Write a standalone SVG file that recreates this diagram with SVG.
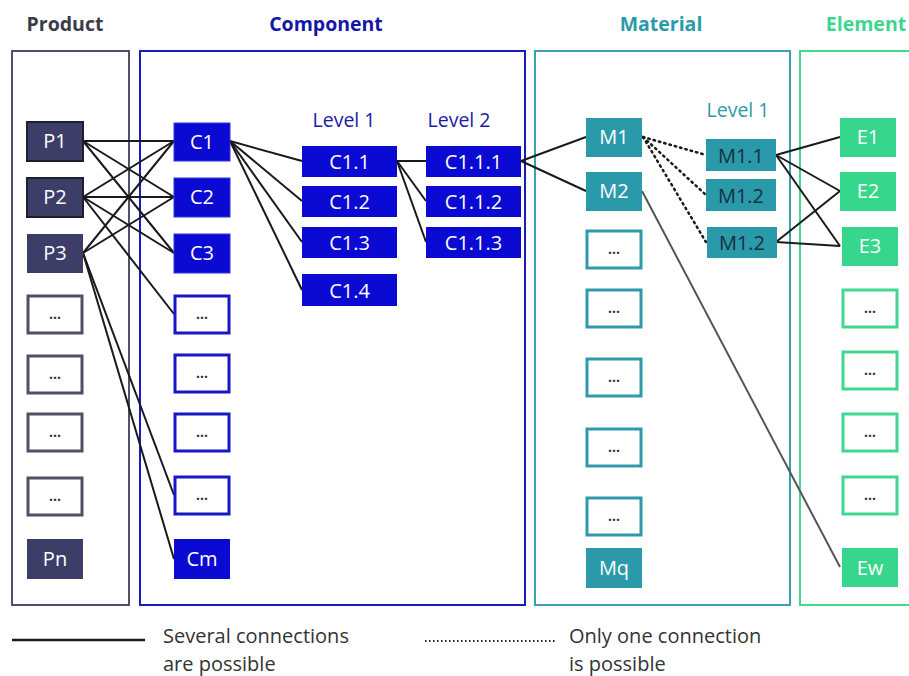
<svg xmlns="http://www.w3.org/2000/svg" width="909" height="676" viewBox="0 0 909 676">
<style>
text{font-family:"Open Sans","Noto Sans","Liberation Sans",sans-serif}
.hd{font-size:19.5px;font-weight:bold;text-anchor:middle}
.lv{font-size:19.5px;text-anchor:middle}
.nt{font-size:20px;fill:#fff;text-anchor:middle}
.dk{fill:#17303a}
.dt{font-size:14px;fill:#333;text-anchor:middle;font-weight:bold}
.lg{font-size:20px;fill:#333}
.fr{fill:none;stroke-width:2}
.p{fill:#3c3e68}
.c{fill:#0a0ad2;stroke:#2b3ad6;stroke-width:1}
.cp{fill:#0a0ad2}
.m{fill:#2a9aab}
.e{fill:#36d68c}
.dp{fill:#fff;stroke:#4f5068;stroke-width:3}
.dc{fill:#fff;stroke:#1717c8;stroke-width:3}
.dm{fill:#fff;stroke:#2e9aaa;stroke-width:3}
.de{fill:#fff;stroke:#40d890;stroke-width:3}
.ln{stroke:#1a1a1a;stroke-width:2;fill:none}
.dl{stroke:#1a1a1a;stroke-width:2.5;stroke-dasharray:1.5 4;stroke-linecap:round;fill:none}
</style>

<g id="frames">
<rect class="fr" x="12" y="51" width="117" height="554" stroke="#50506a"/>
<rect class="fr" x="140" y="51" width="385" height="554" stroke="#1b1bbb"/>
<rect class="fr" x="535" y="51" width="255" height="554" stroke="#3a9fb5"/>
<rect class="fr" x="800" y="51" width="120" height="554" stroke="#46d98e"/>
</g>

<g id="headers">
<text class="hd" x="65" y="31" fill="#3a3a48">Product</text>
<text class="hd" x="326" y="31" fill="#1515a8">Component</text>
<text class="hd" x="661" y="31" fill="#2a9aa8">Material</text>
<text class="hd" x="866" y="31" fill="#3dd68f">Element</text>
<text class="lv" x="344" y="127" fill="#1a1aa6">Level 1</text>
<text class="lv" x="459" y="127" fill="#1a1aa6">Level 2</text>
<text class="lv" x="738" y="117" fill="#2e9aa6">Level 1</text>
</g>

<g id="connectors">
<line class="ln" x1="83" y1="141" x2="174" y2="141"/>
<line class="ln" x1="83" y1="141" x2="174" y2="197"/>
<line class="ln" x1="83" y1="141" x2="174" y2="253"/>
<line class="ln" x1="83" y1="197" x2="174" y2="141"/>
<line class="ln" x1="83" y1="197" x2="174" y2="197"/>
<line class="ln" x1="83" y1="197" x2="174" y2="253"/>
<line class="ln" x1="83" y1="197" x2="174" y2="314"/>
<line class="ln" x1="83" y1="253" x2="174" y2="141"/>
<line class="ln" x1="83" y1="253" x2="174" y2="197"/>
<line class="ln" x1="83" y1="253" x2="174" y2="495"/>
<line class="ln" x1="83" y1="253" x2="174" y2="559"/>
<line class="ln" x1="230" y1="141" x2="302" y2="161"/>
<line class="ln" x1="230" y1="141" x2="302" y2="201"/>
<line class="ln" x1="230" y1="141" x2="302" y2="242"/>
<line class="ln" x1="230" y1="141" x2="302" y2="290"/>
<line class="ln" x1="397" y1="161" x2="426" y2="161"/>
<line class="ln" x1="397" y1="161" x2="426" y2="201"/>
<line class="ln" x1="397" y1="161" x2="426" y2="242"/>
<line class="ln" x1="521" y1="161" x2="586" y2="137"/>
<line class="ln" x1="521" y1="161" x2="586" y2="191"/>
<line class="dl" x1="643" y1="137" x2="706" y2="155"/>
<line class="dl" x1="643" y1="137" x2="706" y2="195"/>
<line class="dl" x1="643" y1="137" x2="706" y2="242"/>
<line x1="642" y1="191" x2="840" y2="567" stroke="#555" stroke-width="2"/>
<line class="ln" x1="776" y1="155" x2="840" y2="137"/>
<line class="ln" x1="776" y1="155" x2="840" y2="191"/>
<line class="ln" x1="776" y1="155" x2="840" y2="246"/>
<line class="ln" x1="776" y1="242" x2="840" y2="191"/>
<line class="ln" x1="776" y1="242" x2="840" y2="246"/>
</g>

<g id="P1"><rect class="p" x="27" y="122" width="56" height="39" stroke="#1e1f2e" stroke-width="2"/><text class="nt" x="55" y="148">P1</text></g>
<g id="P2"><rect class="p" x="27" y="178" width="56" height="39" stroke="#1e1f2e" stroke-width="2"/><text class="nt" x="55" y="204">P2</text></g>
<g id="P3"><rect class="p" x="27" y="234" width="56" height="39"/><text class="nt" x="55" y="260">P3</text></g>
<g id="P4"><rect class="dp" x="28" y="296" width="54" height="37"/><text class="dt" x="55" y="319">...</text></g>
<g id="P5"><rect class="dp" x="28" y="356" width="54" height="37"/><text class="dt" x="55" y="379">...</text></g>
<g id="P6"><rect class="dp" x="28" y="414" width="54" height="37"/><text class="dt" x="55" y="437">...</text></g>
<g id="P7"><rect class="dp" x="28" y="478" width="54" height="37"/><text class="dt" x="55" y="501">...</text></g>
<g id="Pn"><rect class="p" x="27" y="539" width="56" height="40"/><text class="nt" x="55" y="566">Pn</text></g>

<g id="C1"><rect class="c" x="174" y="123" width="56" height="38"/><text class="nt" x="202" y="149">C1</text></g>
<g id="C2"><rect class="c" x="174" y="178" width="56" height="39"/><text class="nt" x="202" y="204">C2</text></g>
<g id="C3"><rect class="c" x="174" y="234" width="56" height="39"/><text class="nt" x="202" y="260">C3</text></g>
<g id="C4"><rect class="dc" x="175" y="296" width="54" height="37"/><text class="dt" x="202" y="319">...</text></g>
<g id="C5"><rect class="dc" x="175" y="355" width="54" height="37"/><text class="dt" x="202" y="378">...</text></g>
<g id="C6"><rect class="dc" x="175" y="414" width="54" height="37"/><text class="dt" x="202" y="437">...</text></g>
<g id="C7"><rect class="dc" x="175" y="477" width="54" height="37"/><text class="dt" x="202" y="500">...</text></g>
<g id="Cm"><rect class="cp" x="174" y="539" width="56" height="40"/><text class="nt" x="202" y="566">Cm</text></g>

<g id="C1.1"><rect class="cp" x="302" y="146" width="95" height="31"/><text class="nt" x="349.5" y="168.5">C1.1</text></g>
<g id="C1.2"><rect class="cp" x="302" y="186" width="95" height="31"/><text class="nt" x="349.5" y="208.5">C1.2</text></g>
<g id="C1.3"><rect class="cp" x="302" y="227" width="95" height="31"/><text class="nt" x="349.5" y="249.5">C1.3</text></g>
<g id="C1.4"><rect class="cp" x="302" y="274" width="95" height="32"/><text class="nt" x="349.5" y="297.5">C1.4</text></g>

<g id="C1.1.1"><rect class="cp" x="426" y="146" width="95" height="31"/><text class="nt" x="473.5" y="168.5">C1.1.1</text></g>
<g id="C1.1.2"><rect class="cp" x="426" y="186" width="95" height="31"/><text class="nt" x="473.5" y="208.5">C1.1.2</text></g>
<g id="C1.1.3"><rect class="cp" x="426" y="227" width="95" height="31"/><text class="nt" x="473.5" y="249.5">C1.1.3</text></g>

<g id="M1"><rect class="m" x="586" y="118" width="56" height="39"/><text class="nt" x="614" y="144">M1</text></g>
<g id="M2"><rect class="m" x="586" y="172" width="56" height="39"/><text class="nt" x="614" y="198">M2</text></g>
<g id="M3"><rect class="dm" x="587" y="231" width="54" height="37"/><text class="dt" x="614" y="254">...</text></g>
<g id="M4"><rect class="dm" x="587" y="290" width="54" height="37"/><text class="dt" x="614" y="313">...</text></g>
<g id="M5"><rect class="dm" x="587" y="359" width="54" height="37"/><text class="dt" x="614" y="382">...</text></g>
<g id="M6"><rect class="dm" x="587" y="429" width="54" height="37"/><text class="dt" x="614" y="452">...</text></g>
<g id="M7"><rect class="dm" x="587" y="498" width="54" height="37"/><text class="dt" x="614" y="521">...</text></g>
<g id="Mq"><rect class="m" x="586" y="548" width="56" height="40"/><text class="nt" x="614" y="575">Mq</text></g>

<g id="M1.1"><rect class="m" x="706" y="139" width="70" height="32"/><text class="nt dk" x="741" y="162.5">M1.1</text></g>
<g id="M1.2"><rect class="m" x="706" y="179" width="70" height="32"/><text class="nt dk" x="741" y="202.5">M1.2</text></g>
<g id="M1.2b"><rect class="m" x="707" y="227" width="70" height="31"/><text class="nt dk" x="742" y="249.5">M1.2</text></g>

<g id="E1"><rect class="e" x="840" y="118" width="56" height="39"/><text class="nt" x="868" y="144">E1</text></g>
<g id="E2"><rect class="e" x="840" y="172" width="56" height="39"/><text class="nt" x="868" y="198">E2</text></g>
<g id="E3"><rect class="e" x="842" y="227" width="56" height="39"/><text class="nt" x="870" y="253">E3</text></g>
<g id="E4"><rect class="de" x="843" y="290" width="54" height="37"/><text class="dt" x="870" y="313">...</text></g>
<g id="E5"><rect class="de" x="843" y="352" width="54" height="37"/><text class="dt" x="870" y="375">...</text></g>
<g id="E6"><rect class="de" x="843" y="414" width="54" height="37"/><text class="dt" x="870" y="437">...</text></g>
<g id="E7"><rect class="de" x="843" y="477" width="54" height="37"/><text class="dt" x="870" y="500">...</text></g>
<g id="Ew"><rect class="e" x="842" y="548" width="56" height="39"/><text class="nt" x="870" y="575">Ew</text></g>

<g id="legend">
<line x1="12" y1="640" x2="145" y2="640" stroke="#1a1a1a" stroke-width="2.5"/>
<text class="lg" x="163" y="643">Several connections</text>
<text class="lg" x="163" y="671">are possible</text>
<line x1="425" y1="641" x2="557" y2="641" stroke="#222" stroke-width="2" stroke-dasharray="1.5 2.5"/>
<text class="lg" x="569" y="643">Only one connection</text>
<text class="lg" x="569" y="671">is possible</text>
</g>
</svg>
